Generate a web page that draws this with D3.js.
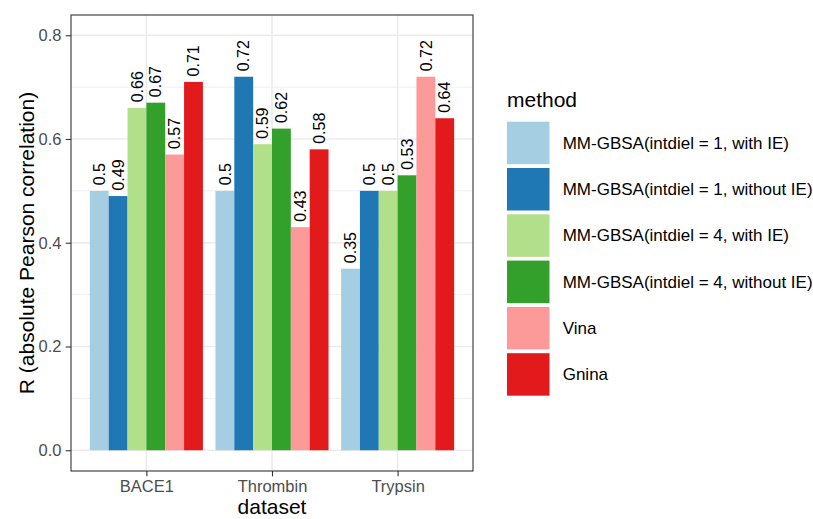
<!DOCTYPE html>
<html>
<head>
<meta charset="utf-8">
<script src="https://cdn.jsdelivr.net/npm/d3@7"></script>
<style>
  html, body { margin: 0; padding: 0; background: #fff; }
  svg { display: block; font-family: "Liberation Sans", Arial, Helvetica, sans-serif; }
</style>
</head>
<body>
<div id="chart"></div>
<script>
const datasets = ["BACE1", "Thrombin", "Trypsin"];
const methods = [
  "MM-GBSA(intdiel = 1, with IE)",
  "MM-GBSA(intdiel = 1, without IE)",
  "MM-GBSA(intdiel = 4, with IE)",
  "MM-GBSA(intdiel = 4, without IE)",
  "Vina",
  "Gnina"
];
const colors = ["#A6CEE3", "#1F78B4", "#B2DF8A", "#33A02C", "#FB9A99", "#E31A1C"];
const valuesBACE1    = [0.50, 0.49, 0.66, 0.67, 0.57, 0.71];
const valuesThrombin = [0.50, 0.72, 0.59, 0.62, 0.43, 0.58];
const valuesTrypsin  = [0.35, 0.50, 0.50, 0.53, 0.72, 0.64];
const labelsBACE1    = ["0.5", "0.49", "0.66", "0.67", "0.57", "0.71"];
const labelsThrombin = ["0.5", "0.72", "0.59", "0.62", "0.43", "0.58"];
const labelsTrypsin  = ["0.35", "0.5", "0.5", "0.53", "0.72", "0.64"];
const yTicks = [0, 0.2, 0.4, 0.6, 0.8];
const yTickLabels = ["0.0", "0.2", "0.4", "0.6", "0.8"];
const yMinor = [0.1, 0.3, 0.5, 0.7];

const seriesValues = [valuesBACE1, valuesThrombin, valuesTrypsin];
const seriesLabels = [labelsBACE1, labelsThrombin, labelsTrypsin];
const rows = [];
datasets.forEach((d, i) => methods.forEach((m, j) => rows.push({
  dataset: d, method: m, value: seriesValues[i][j], label: seriesLabels[i][j]
})));

const W = 813, H = 519;
const P = { left: 71, right: 473, top: 15, bottom: 471 };

const svg = d3.select("#chart").append("svg").attr("width", W).attr("height", H);

const x = d3.scalePoint().domain(datasets).range([P.left, P.right]).padding(0.6);
const step = x.step();
const xInner = d3.scaleBand().domain(methods).range([-0.45 * step, 0.45 * step]);
const y = d3.scaleLinear().domain([-0.04, 0.839]).range([P.bottom, P.top]);
const color = d3.scaleOrdinal().domain(methods).range(colors);

// panel background + grid
const g = svg.append("g");
g.append("rect").attr("x", P.left).attr("y", P.top)
  .attr("width", P.right - P.left).attr("height", P.bottom - P.top).attr("fill", "#fff");
g.selectAll("line.minor").data(yMinor).join("line")
  .attr("x1", P.left).attr("x2", P.right)
  .attr("y1", d => y(d)).attr("y2", d => y(d))
  .attr("stroke", "#EBEBEB").attr("stroke-width", 0.8);
g.selectAll("line.major").data(yTicks).join("line")
  .attr("x1", P.left).attr("x2", P.right)
  .attr("y1", d => y(d)).attr("y2", d => y(d))
  .attr("stroke", "#EBEBEB").attr("stroke-width", 1.6);
g.selectAll("line.vmajor").data(datasets).join("line")
  .attr("x1", d => x(d)).attr("x2", d => x(d))
  .attr("y1", P.top).attr("y2", P.bottom)
  .attr("stroke", "#EBEBEB").attr("stroke-width", 1.6);

// bars
svg.append("g").selectAll("rect").data(rows).join("rect")
  .attr("x", d => x(d.dataset) + xInner(d.method))
  .attr("width", xInner.bandwidth())
  .attr("y", d => y(d.value))
  .attr("height", d => y(0) - y(d.value))
  .attr("fill", d => color(d.method));

// value labels
svg.append("g").selectAll("text").data(rows).join("text")
  .attr("transform", d => `translate(${x(d.dataset) + xInner(d.method) + xInner.bandwidth() / 2},${y(d.value) - 5.5}) rotate(-90)`)
  .attr("dy", "0.35em")
  .attr("text-anchor", "start")
  .attr("font-size", 16)
  .attr("fill", "#000")
  .text(d => d.label);

// panel border
svg.append("rect").attr("x", P.left).attr("y", P.top)
  .attr("width", P.right - P.left).attr("height", P.bottom - P.top)
  .attr("fill", "none").attr("stroke", "#333333").attr("stroke-width", 1.1);

// y axis
const yAxis = svg.append("g").attr("transform", `translate(${P.left},0)`)
  .call(d3.axisLeft(y).tickValues(yTicks).tickFormat((d, i) => yTickLabels[i]).tickSize(5.3).tickPadding(4.2));
yAxis.select(".domain").remove();
yAxis.selectAll(".tick line").attr("stroke", "#333333").attr("stroke-width", 1.1);
yAxis.selectAll(".tick text").attr("fill", "#4D4D4D").attr("font-size", 16.5)
  .attr("font-family", "Liberation Sans, Arial, sans-serif");

// x axis
const xAxis = svg.append("g").attr("transform", `translate(0,${P.bottom})`)
  .call(d3.axisBottom(x).tickSize(5.3).tickPadding(4.2));
xAxis.select(".domain").remove();
xAxis.selectAll(".tick line").attr("stroke", "#333333").attr("stroke-width", 1.1);
xAxis.selectAll(".tick text").attr("fill", "#4D4D4D").attr("font-size", 16.5)
  .attr("font-family", "Liberation Sans, Arial, sans-serif");

// axis titles
svg.append("text").attr("x", (P.left + P.right) / 2).attr("y", 514)
  .attr("text-anchor", "middle").attr("font-size", 21).attr("fill", "#000").text("dataset");
svg.append("text")
  .attr("transform", `translate(${34},${(P.top + P.bottom) / 2}) rotate(-90)`)
  .attr("text-anchor", "middle").attr("font-size", 21).attr("fill", "#000")
  .text("R (absolute Pearson correlation)");

// legend
const L = { x: 507, y: 121.7, key: 42.5, pitch: 46.3 };
const leg = svg.append("g");
leg.append("text").attr("x", L.x).attr("y", 106.5).attr("font-size", 21).attr("fill", "#000").text("method");
const items = leg.selectAll("g.item").data(methods).join("g")
  .attr("transform", (d, i) => `translate(${L.x},${L.y + i * L.pitch})`);
items.append("rect").attr("width", L.key).attr("height", L.key).attr("fill", d => color(d));
items.append("text").attr("x", 55.7).attr("y", L.key / 2).attr("dy", "0.35em")
  .attr("font-size", 17).attr("fill", "#000").text(d => d);
</script>
</body>
</html>
